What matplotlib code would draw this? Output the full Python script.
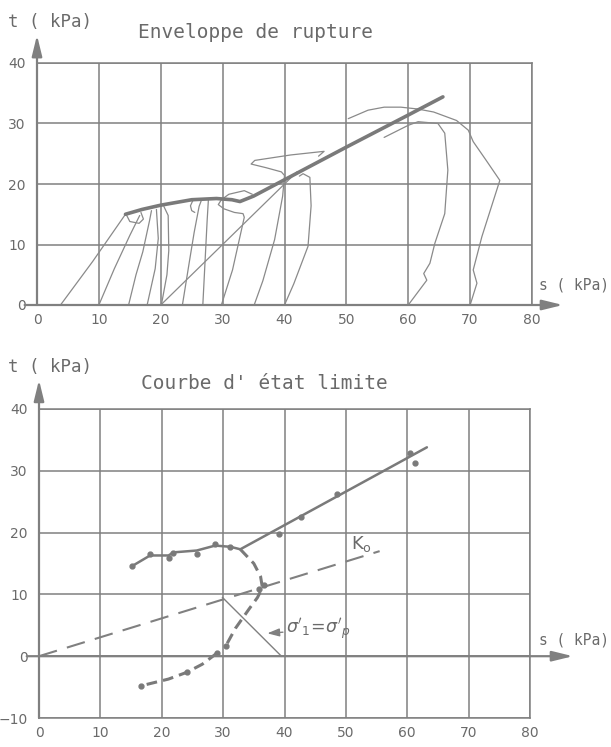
import matplotlib
matplotlib.use("Agg")
import matplotlib.pyplot as plt

# ---- data (s, t in kPa) ----
# top panel: failure envelope (thick line)
env_s = [14.3, 17.0, 20.0, 25.0, 29.0, 31.5, 32.8, 35.0, 40.0, 50.0, 60.0, 65.6]
env_t = [15.0, 15.8, 16.5, 17.4, 17.6, 17.4, 17.1, 18.0, 20.7, 26.1, 31.4, 34.4]

# top panel: stress paths (thin lines)
path1_s = [3.8, 9.0, 14.3]
path1_t = [0.0, 7.2, 15.0]
path2_s = [10.0, 12.5, 15.0, 16.6]
path2_t = [0.0, 6.0, 11.5, 14.8]
path3_s = [14.8, 16.0, 17.1, 18.2, 18.5]
path3_t = [0.0, 5.0, 8.8, 14.0, 15.6]
path4_s = [17.8, 19.1, 19.6, 19.3]
path4_t = [0.0, 6.0, 11.0, 15.8]
path5_s = [20.1, 21.0, 21.3, 21.2, 20.5]
path5_t = [0.0, 5.0, 9.0, 14.8, 16.3]
path6_s = [20.0, 42.0]
path6_t = [0.0, 22.0]
path7_s = [23.5, 24.6, 25.4, 26.2, 26.6]
path7_t = [0.0, 7.0, 12.0, 16.3, 17.4]
hook7_s = [25.2, 24.8, 25.0, 25.5]
hook7_t = [17.3, 16.4, 15.6, 15.3]
path8_s = [26.8, 27.2, 27.5, 27.7]
path8_t = [0.0, 8.0, 14.0, 17.4]
path9_s = [29.8, 31.6, 33.5, 33.3, 31.9, 30.2, 29.3, 29.8, 31.0, 33.5, 34.8]
path9_t = [0.0, 5.8, 14.5, 15.1, 15.3, 15.9, 16.6, 17.4, 18.3, 18.9, 18.3]
path10_s = [35.1, 36.5, 38.4, 39.7, 40.0, 39.5, 37.0, 34.6, 35.2, 41.0, 46.4, 45.5]
path10_t = [0.0, 4.0, 10.8, 18.0, 21.4, 22.0, 22.7, 23.3, 23.9, 24.8, 25.4, 24.6]
path11_s = [40.0, 41.5, 43.8, 44.3, 44.1, 43.0, 42.4]
path11_t = [0.0, 3.5, 9.7, 16.4, 21.1, 21.7, 21.3]
path12_s = [60.0, 63.0, 62.5, 63.5, 64.3, 65.9, 66.4, 65.9, 64.8, 61.6, 60.0, 56.1]
path12_t = [0.0, 4.1, 5.2, 6.9, 10.2, 15.1, 22.3, 28.4, 30.0, 30.3, 29.7, 27.7]
path13_s = [70.0, 71.1, 70.5, 71.9, 74.8, 72.6, 70.5, 69.7, 67.8, 64.1, 61.5, 58.8, 56.1, 53.5, 50.3]
path13_t = [0.0, 3.6, 5.8, 11.3, 20.6, 23.9, 27.0, 28.9, 30.5, 31.9, 32.4, 32.7, 32.7, 32.2, 30.8]
loop_s = [14.5, 15.0, 16.5, 17.2, 16.8]
loop_t = [14.8, 13.8, 13.5, 14.2, 15.3]

# bottom panel: limit state curve
lim_s = [15.2, 18.1, 21.1, 21.9, 25.7, 28.7, 31.2, 32.8, 63.2]
lim_t = [14.6, 16.3, 16.3, 16.8, 17.1, 17.9, 17.7, 17.3, 33.8]
test_s = [15.2, 18.1, 21.1, 21.9, 25.7, 28.7, 31.2, 39.1, 42.7, 48.6, 60.4, 61.3]
test_t = [14.6, 16.5, 15.9, 16.7, 16.6, 18.1, 17.6, 19.7, 22.6, 26.3, 32.8, 31.2]
dash_up_s = [32.8, 35.0, 36.1, 36.4, 35.6, 34.2, 32.0, 30.4]
dash_up_t = [17.3, 15.0, 12.9, 11.1, 9.5, 7.6, 4.5, 1.6]
dash_lo_s = [29.0, 26.6, 24.1, 21.1, 16.6]
dash_lo_t = [0.5, -1.3, -2.6, -3.7, -4.8]
dash_pt_s = [36.7, 35.8, 30.4, 29.0, 24.1, 16.6]
dash_pt_t = [11.6, 10.8, 1.6, 0.5, -2.6, -4.8]
k0_s = [0.0, 55.5]
k0_t = [0.0, 17.0]
sig_s = [29.9, 39.5]
sig_t = [9.5, 0.0]

x_ticks = [0, 10, 20, 30, 40, 50, 60, 70, 80]
top_y_ticks = [0, 10, 20, 30, 40]
bot_y_ticks = [-10, 0, 10, 20, 30, 40]

LINE = '#808080'
TEXT = '#6a6a6a'
MONO = 'DejaVu Sans Mono'
W, H = 611, 747

fig = plt.figure(figsize=(W / 100, H / 100), dpi=100)
fig.patch.set_facecolor('white')


def px(x, y):
    return x / W, 1 - y / H


def frame(ax, yticks, ylim, xarrow_end, yarrow_end):
    ax.set_xlim(0, 80)
    ax.set_ylim(*ylim)
    ax.set_xticks(x_ticks)
    ax.set_yticks(yticks)
    ax.tick_params(length=0, colors=TEXT, labelsize=10)
    ax.tick_params(axis='y', pad=8)
    ax.tick_params(axis='x', pad=6)
    ax.grid(True, color=LINE, lw=1.1)
    for sp in ax.spines.values():
        sp.set_color(LINE)
        sp.set_linewidth(1.1)
    ax.set_facecolor('none')
    # axes with arrows
    ax.annotate('', xy=(xarrow_end, 0), xytext=(-2, 0), annotation_clip=False,
                arrowprops=dict(arrowstyle='-|>,head_length=0.9,head_width=0.22',
                                color=LINE, lw=1.6, mutation_scale=14, shrinkA=0, shrinkB=0))
    ax.annotate('', xy=(0, yarrow_end), xytext=(0, ylim[0]), annotation_clip=False,
                arrowprops=dict(arrowstyle='-|>,head_length=0.9,head_width=0.22',
                                color=LINE, lw=1.6, mutation_scale=14, shrinkA=0, shrinkB=0))
    for lab in ax.get_xticklabels() + ax.get_yticklabels():
        lab.set_color(TEXT)


# ---- top panel ----
ax1 = fig.add_axes([37 / W, 1 - 305 / H, 495 / W, 242 / H])
frame(ax1, top_y_ticks, (0, 40), 85, 44.6)

thin = dict(color='#8a8a8a', lw=0.9, solid_capstyle='round', solid_joinstyle='round')
paths = [(path1_s, path1_t), (path2_s, path2_t), (path3_s, path3_t), (path4_s, path4_t),
         (path5_s, path5_t), (path6_s, path6_t), (path7_s, path7_t), (hook7_s, hook7_t),
         (path8_s, path8_t), (path9_s, path9_t), (path10_s, path10_t), (path11_s, path11_t),
         (path12_s, path12_t), (path13_s, path13_t), (loop_s, loop_t)]
for s, t in paths:
    ax1.plot(s, t, **thin)
ax1.plot(env_s, env_t, color='#7a7a7a', lw=2.6, solid_capstyle='round')

fig.text(*px(8, 22), 't ( kPa)', family=MONO, fontsize=12.5, color=TEXT, va='center', ha='left')
fig.text(*px(539, 285), 's ( kPa)', family=MONO, fontsize=10.5, color=TEXT, va='center', ha='left')
fig.text(*px(255, 32), 'Enveloppe de rupture', family=MONO, fontsize=14, color=TEXT,
         va='center', ha='center')

# ---- bottom panel ----
ax2 = fig.add_axes([39 / W, 1 - 718 / H, 491 / W, 309 / H])
frame(ax2, bot_y_ticks, (-10, 40), 87, 44.7)

ax2.plot(k0_s, k0_t, color=LINE, lw=1.5, dashes=(9, 5))
ax2.plot(sig_s, sig_t, color=LINE, lw=1.0)
ax2.plot(lim_s, lim_t, color='#7a7a7a', lw=1.8, solid_capstyle='round')
ax2.plot(test_s, test_t, 'o', color='#7a7a7a', ms=3.5)
ax2.plot(dash_up_s, dash_up_t, color='#7a7a7a', lw=2.2, dashes=(3.5, 2))
ax2.plot(dash_lo_s, dash_lo_t, color='#7a7a7a', lw=2.2, dashes=(3.5, 2))
ax2.plot(dash_pt_s, dash_pt_t, 'o', color='#7a7a7a', ms=3.5)

ax2.text(50.8, 18.2, r'$\mathregular{K_o}$', fontsize=13, color=TEXT, ha='left', va='center')
ax2.annotate(r"$\sigma'_1\!=\!\sigma'_p$", xy=(37.2, 3.7), xytext=(40.2, 4.3),
             fontsize=12.5, color=TEXT, va='center', ha='left',
             arrowprops=dict(arrowstyle='-|>,head_length=0.6,head_width=0.2', color=LINE,
                             lw=1.0, mutation_scale=12, shrinkA=0, shrinkB=0))

fig.text(*px(8, 367), 't ( kPa)', family=MONO, fontsize=12.5, color=TEXT, va='center', ha='left')
fig.text(*px(539, 640), 's ( kPa)', family=MONO, fontsize=10.5, color=TEXT, va='center', ha='left')
fig.text(*px(264, 383), "Courbe d' état limite", family=MONO, fontsize=14, color=TEXT,
         va='center', ha='center')

fig.savefig('out.png', dpi=100, facecolor='white')
